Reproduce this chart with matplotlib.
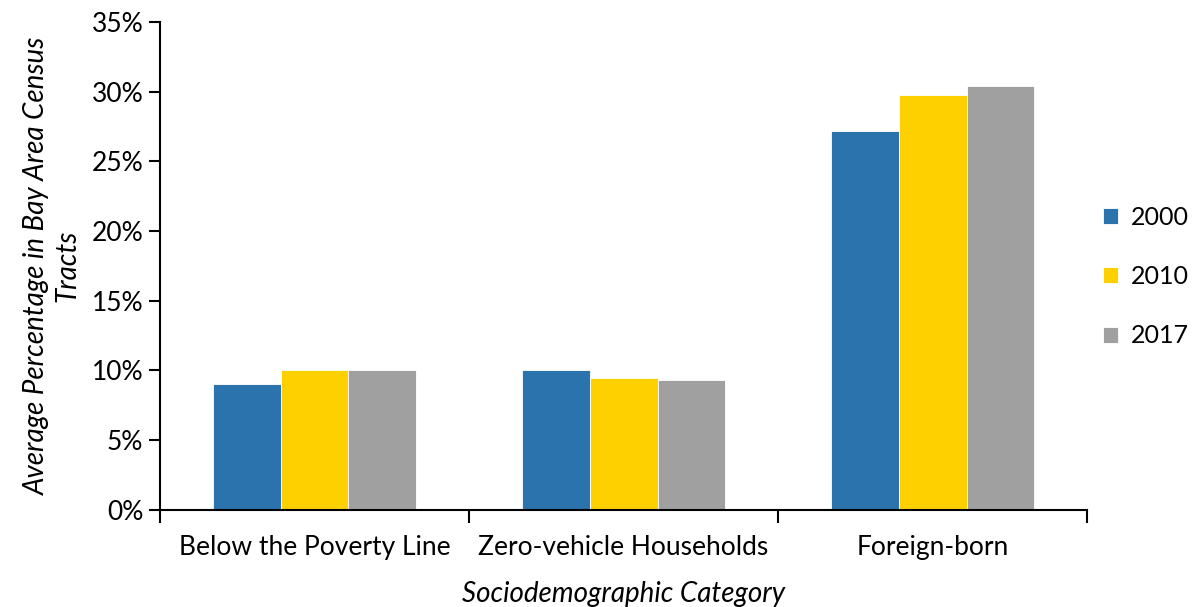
import matplotlib
matplotlib.use("Agg")
import matplotlib.pyplot as plt
import numpy as np
from matplotlib.ticker import FuncFormatter, FixedLocator

categories = ["Below the Poverty Line", "Zero-vehicle Households", "Foreign-born"]
years = ["2000", "2010", "2017"]
values_2000 = [9.0, 10.0, 27.2]
values_2010 = [10.0, 9.45, 29.75]
values_2017 = [10.0, 9.35, 30.4]
colors = ["#2A73AD", "#FFD000", "#A0A0A0"]

plt.rcParams['font.family'] = ['Lato', 'DejaVu Sans']

fig = plt.figure(figsize=(12.03, 6.07), dpi=100)
ax = fig.add_axes([0.133, 0.16, 0.7706, 0.8038])

x = np.arange(len(categories))
w = 0.22
series = [values_2000, values_2010, values_2017]
for i, (vals, c, yr) in enumerate(zip(series, colors, years)):
    ax.bar(x + (i - 1) * w, vals, width=w, color=c, edgecolor="white", linewidth=0.6, label=yr)

ax.set_xlim(-0.5, 2.5)
ax.set_ylim(0, 35)
ax.set_yticks(np.arange(0, 36, 5))
ax.yaxis.set_major_formatter(FuncFormatter(lambda v, p: f"{int(v)}%"))
ax.set_xticks(x)
ax.set_xticklabels(categories, fontsize=19)
ax.tick_params(axis='x', length=0, pad=18)
ax.xaxis.set_minor_locator(FixedLocator([-0.5, 0.5, 1.5, 2.5]))
ax.tick_params(axis='x', which='minor', length=9, width=1.5, direction='out')
ax.tick_params(axis='y', length=8, width=1.5, labelsize=19, pad=4)

for s in ["top", "right"]:
    ax.spines[s].set_visible(False)
for s in ["left", "bottom"]:
    ax.spines[s].set_linewidth(1.5)

ax.set_ylabel("Average Percentage in Bay Area Census\nTracts", fontsize=20, style='italic', labelpad=8)
ax.set_xlabel("Sociodemographic Category", fontsize=20, style='italic', labelpad=15)

leg = ax.legend(loc='center left', bbox_to_anchor=(0.993, 0.478), frameon=False, fontsize=18,
                handlelength=0.6, handleheight=0.6, labelspacing=1.45, handletextpad=0.5)

fig.savefig("out.png", dpi=100)
